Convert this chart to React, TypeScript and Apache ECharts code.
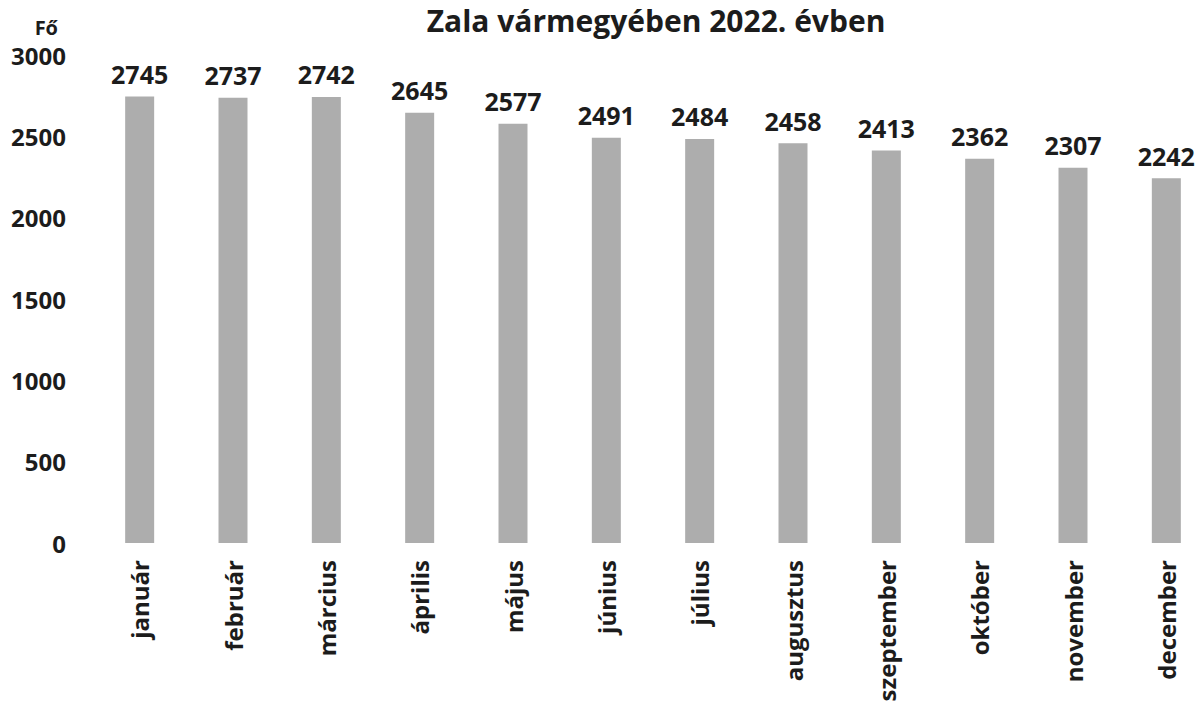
import React, { useEffect, useRef } from "react";
import * as echarts from "echarts";

const categories = ["január", "február", "március", "április", "május", "június", "július", "augusztus", "szeptember", "október", "november", "december"];
const values = [2745, 2737, 2742, 2645, 2577, 2491, 2484, 2458, 2413, 2362, 2307, 2242];
const titleText = "Zala vármegyében 2022. évben";
const yAxisName = "Fő";

const FONT = "'Open Sans', 'DejaVu Sans', sans-serif";
const TEXT = "#1c1c1c";

export default function App() {
  const ref = useRef<HTMLDivElement>(null);
  useEffect(() => {
    if (!ref.current) return;
    const chart = echarts.init(ref.current, undefined, { renderer: "svg" });
    chart.setOption({
      animation: false,
      backgroundColor: "#ffffff",
      title: {
        text: titleText,
        left: 651,
        textAlign: "center",
        top: 0,
        textStyle: { fontFamily: FONT, fontSize: 30, fontWeight: "bold", color: TEXT },
      },
      grid: { left: 93, width: 1120, top: 55, bottom: 161, containLabel: false, outerBoundsMode: "none" },
      xAxis: {
        type: "category",
        data: categories,
        axisLine: { show: false },
        axisTick: { show: false },
        axisLabel: {
          rotate: 90,
          interval: 0,
          margin: 17,
          fontFamily: FONT,
          fontSize: 24,
          fontWeight: "bold",
          color: TEXT,
        },
      },
      yAxis: {
        type: "value",
        min: 0,
        max: 3000,
        interval: 500,
        name: yAxisName,
        nameLocation: "end",
        nameGap: 18,
        nameTextStyle: { fontFamily: FONT, fontSize: 20, fontWeight: "bold", color: TEXT, align: "right", padding: [0, 35, 0, 0] },
        axisLine: { show: false },
        axisTick: { show: false },
        splitLine: { show: false },
        axisLabel: { margin: 27, fontFamily: FONT, fontSize: 24, fontWeight: "bold", color: TEXT, formatter: (v: number) => String(v) },
      },
      series: [
        {
          type: "bar",
          data: values,
          barWidth: 29,
          itemStyle: { color: "#adadad" },
          label: {
            show: true,
            position: "top",
            distance: 10,
            fontFamily: FONT,
            fontSize: 25,
            fontWeight: "bold",
            color: TEXT,
          },
        },
      ],
    });
    return () => chart.dispose();
  }, []);
  return <div ref={ref} style={{ width: 1199, height: 704, position: "absolute", left: 0, top: 0 }} />;
}
